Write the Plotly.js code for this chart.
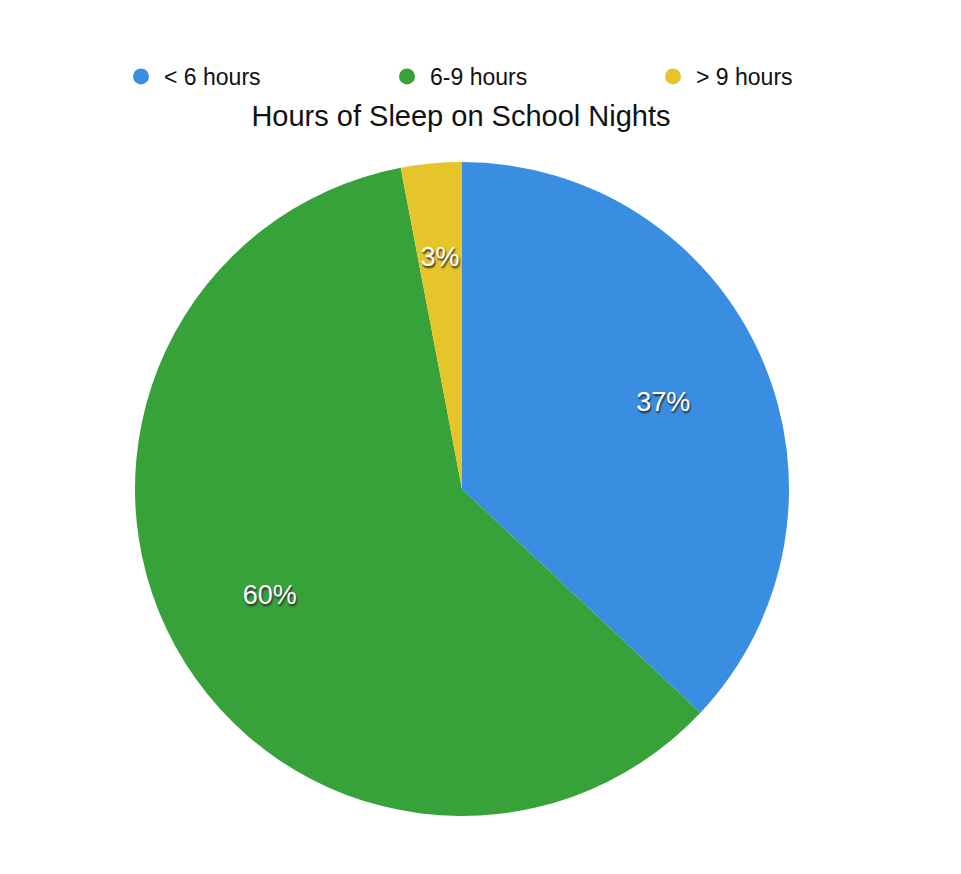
<!DOCTYPE html>
<html>
<head>
<meta charset="utf-8">
<script src="https://cdn.plot.ly/plotly-3.0.1.min.js"></script>
<style>
  html, body { margin: 0; padding: 0; background: #fff; }
  #chart { width: 961px; height: 874px; }
</style>
</head>
<body>
<div id="chart"></div>
<script>
const sleepLabels = ['< 6 hours', '6-9 hours', '> 9 hours']
const sleepShares = [37, 60, 3]
const sleepColors = ['#3a8ee2', '#37a13a', '#e6c52a']

// pie sits in a 654px square centred at x=462; label ring is a smaller square inside it
const pieDomain = { x: [135 / 961, 789 / 961], y: [0, 1] }
const ringDomain = { x: [207 / 961, 717 / 961], y: [72 / 654, 582 / 654] }

// the coloured slices, no text
const pieTrace = {
  type: 'pie',
  labels: sleepLabels,
  values: sleepShares,
  sort: false,
  direction: 'clockwise',
  rotation: 0,
  domain: pieDomain,
  showlegend: false,
  marker: { colors: sleepColors, line: { width: 0 } },
  textinfo: 'none',
  hoverinfo: 'label+percent'
}

// transparent ring on top, only there to keep the percent labels at ~2/3 radius
const labelTrace = {
  type: 'pie',
  labels: sleepLabels,
  values: sleepShares,
  sort: false,
  direction: 'clockwise',
  rotation: 0,
  domain: ringDomain,
  hole: 0.72,
  showlegend: false,
  marker: { colors: ['rgba(0,0,0,0)', 'rgba(0,0,0,0)', 'rgba(0,0,0,0)'], line: { width: 0 } },
  textinfo: 'percent',
  textposition: 'inside',
  insidetextorientation: 'horizontal',
  textfont: { family: 'Liberation Sans, Arial, sans-serif', size: 27, color: '#ffffff', shadow: '1px 2px 2px #2a2a2a' },
  hoverinfo: 'skip'
}

// dummy traces so the legend gets round markers
const legendTraces = sleepLabels.map((label, i) => ({
  type: 'scatter',
  mode: 'markers',
  x: [null],
  y: [null],
  name: label,
  marker: { symbol: 'circle', size: 17, color: sleepColors[i] },
  hoverinfo: 'skip'
}))

const layout = {
  width: 961,
  height: 874,
  paper_bgcolor: '#ffffff',
  plot_bgcolor: '#ffffff',
  margin: { l: 0, r: 0, t: 162, b: 58 },
  font: { family: 'Liberation Sans, Arial, sans-serif', color: '#000000' },
  uniformtext: { mode: 'show', minsize: 27 },
  title: {
    text: 'Hours of Sleep on School Nights',
    font: { size: 29, color: '#111111' },
    xref: 'container',
    yref: 'container',
    x: 461 / 961,
    y: 1 - 116 / 874,
    xanchor: 'center',
    yanchor: 'middle'
  },
  xaxis: { visible: false },
  yaxis: { visible: false },
  showlegend: true,
  legend: {
    orientation: 'h',
    xref: 'container',
    yref: 'container',
    x: 118 / 961,
    y: 1 - 55 / 874,
    xanchor: 'left',
    yanchor: 'top',
    entrywidth: 215,
    itemwidth: 36,
    font: { size: 23, color: '#111111' }
  }
}

Plotly.newPlot('chart', [pieTrace, labelTrace].concat(legendTraces), layout, { displayModeBar: false, staticPlot: true })
</script>
</body>
</html>
